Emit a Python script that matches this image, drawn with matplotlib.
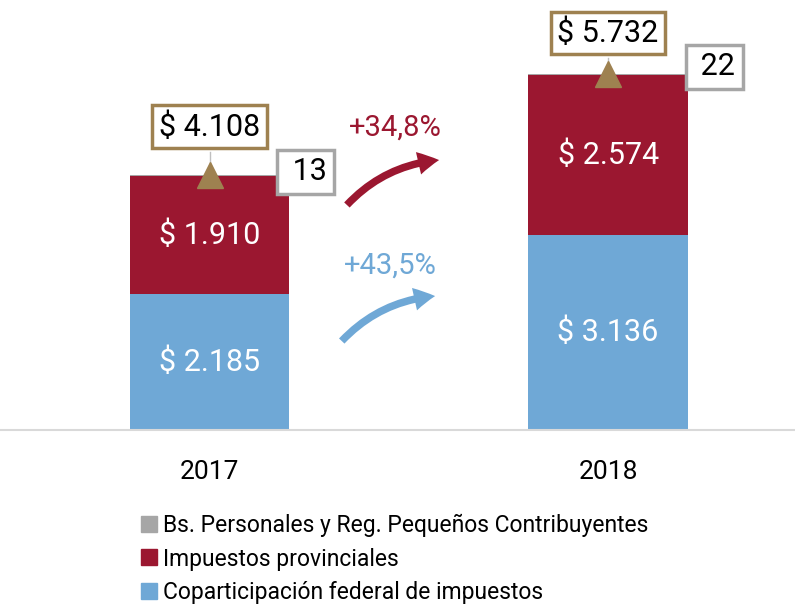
import matplotlib.pyplot as plt
import numpy as np
from matplotlib.patches import FancyArrowPatch
from matplotlib.lines import Line2D

plt.rcParams['font.family'] = ['Roboto', 'DejaVu Sans']

# ---- data ----
years = ["2017", "2018"]
coparticipacion = [2185, 3136]
provinciales = [1910, 2574]
bs_personales = [13, 22]
totales = [4108, 5732]
variaciones = ["+34,8%", "+43,5%"]   # provinciales, coparticipacion
legend_labels = ["Bs. Personales y Reg. Pequeños Contribuyentes",
                 "Impuestos provinciales",
                 "Coparticipación federal de impuestos"]

RED = "#9B1730"
BLUE = "#6FA8D6"
GRAY = "#A6A6A6"
TAN = "#9E8150"

fig = plt.figure(figsize=(7.95, 6.07), dpi=100)
ax = fig.add_axes([0, 1 - 430 / 607, 1, 430 / 607])

x = np.arange(len(years))
w = 0.4
red_bottom = np.array(coparticipacion)
gray_bottom = red_bottom + np.array(provinciales)

ax.bar(x, coparticipacion, w, color=BLUE, zorder=2)
ax.bar(x, provinciales, w, bottom=red_bottom, color=RED, zorder=2)
ax.bar(x, bs_personales, w, bottom=gray_bottom, color=GRAY, zorder=2)

ax.set_xlim(-0.5257, 1.469)
ax.set_ylim(0, 6923)
for s in ["top", "left", "right"]:
    ax.spines[s].set_visible(False)
ax.spines["bottom"].set_color("#D9D9D9")
ax.spines["bottom"].set_linewidth(1.5)
ax.set_yticks([])
ax.set_xticks([])


def pesos(v):
    return "$ " + f"{v:,}".replace(",", ".")


# values inside the bars + year labels
for i in range(len(years)):
    ax.text(x[i], coparticipacion[i] / 2, pesos(coparticipacion[i]),
            ha="center", va="center", color="white", fontsize=22)
    ax.text(x[i], red_bottom[i] + provinciales[i] / 2, pesos(provinciales[i]),
            ha="center", va="center", color="white", fontsize=22)
    ax.text(x[i], -0.07, years[i], ha="center", va="top", fontsize=19,
            transform=ax.get_xaxis_transform())

# totals with triangle markers and boxes
total_offsets = [48, 41]
gray_offsets = [(96, 3), (106, 7)]
for i in range(len(years)):
    ax.plot([x[i], x[i]], [totales[i], totales[i] + total_offsets[i] * 16.1 - 400],
            color="#BFBFBF", lw=1, zorder=3)
    ax.plot(x[i], totales[i], marker="^", markersize=19, color=TAN, zorder=4)
    ax.annotate(pesos(totales[i]), (x[i], totales[i]),
                xytext=(0, total_offsets[i] * 0.72), textcoords="offset points",
                ha="center", va="center", fontsize=22, zorder=5,
                bbox=dict(boxstyle="square,pad=0.22", fc="white", ec=TAN, lw=2.5))
    ax.annotate(" " + str(bs_personales[i]), (x[i], totales[i]),
                xytext=(gray_offsets[i][0] * 0.72, gray_offsets[i][1] * 0.72),
                textcoords="offset points", ha="center", va="center", fontsize=22, zorder=5,
                bbox=dict(boxstyle="square,pad=0.25", fc="white", ec=GRAY, lw=2.5))

# growth arrows
arrows = [((0.340, 3590), (0.583, 4350), RED, variaciones[0], (0.466, 4862)),
          ((0.327, 1400), (0.573, 2160), BLUE, variaciones[1], (0.453, 2653))]
for start, end, col, lab, lpos in arrows:
    ax.add_patch(FancyArrowPatch(start, end, connectionstyle="arc3,rad=-0.2",
                                 arrowstyle="simple,head_length=1.0,head_width=1.1,tail_width=0.36",
                                 mutation_scale=15, color=col, lw=0, zorder=3))
    ax.text(lpos[0], lpos[1], lab, color=col, fontsize=21, ha="center", va="center")

handles = [Line2D([], [], ls="", marker="s", markersize=11, color=c)
           for c in [GRAY, RED, BLUE]]
fig.legend(handles, legend_labels, loc="upper left", bbox_to_anchor=(142 / 795, 1 - 514 / 607),
           frameon=False, fontsize=16.5, handlelength=0.6, handletextpad=0.3,
           labelspacing=0.45, borderpad=0, borderaxespad=0)

fig.savefig("out.png", dpi=100)
